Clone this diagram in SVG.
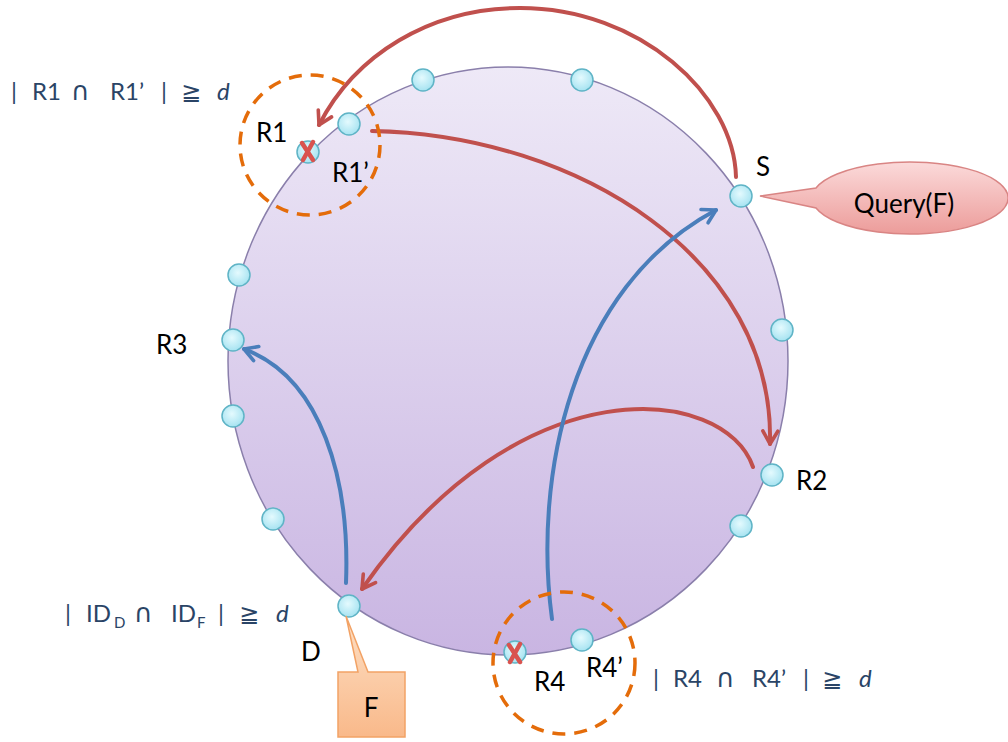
<svg xmlns="http://www.w3.org/2000/svg" width="1008" height="742" viewBox="0 0 1008 742">
<defs>
<linearGradient id="gRing" x1="0" y1="0" x2="0" y2="1">
<stop offset="0" stop-color="#eee9f7"/>
<stop offset="1" stop-color="#c9b5e2"/>
</linearGradient>
<radialGradient id="gNode" cx="0.45" cy="0.4" r="0.6">
<stop offset="0" stop-color="#e4fafe"/>
<stop offset="1" stop-color="#a6e3f1"/>
</radialGradient>
<linearGradient id="gQuery" x1="0" y1="0" x2="0" y2="1">
<stop offset="0" stop-color="#fbdada"/>
<stop offset="1" stop-color="#ec9c9a"/>
</linearGradient>
<linearGradient id="gF" x1="0" y1="0" x2="0" y2="1">
<stop offset="0" stop-color="#fde0c6"/>
<stop offset="1" stop-color="#f9b98a"/>
</linearGradient>
<marker id="mRed" viewBox="0 0 20 20" refX="17" refY="10" markerWidth="20" markerHeight="20" markerUnits="userSpaceOnUse" orient="auto">
<path d="M4,2.5 L17,10 L4,17.5" fill="none" stroke="#c0504d" stroke-width="3.6" stroke-linecap="round" stroke-linejoin="round"/>
</marker>
<marker id="mBlue" viewBox="0 0 20 20" refX="17" refY="10" markerWidth="20" markerHeight="20" markerUnits="userSpaceOnUse" orient="auto">
<path d="M4,2.5 L17,10 L4,17.5" fill="none" stroke="#4a7ebb" stroke-width="3.6" stroke-linecap="round" stroke-linejoin="round"/>
</marker>
</defs>
<style>
.node{fill:url(#gNode);stroke:#5fb4c6;stroke-width:1.5}
.lbl{font-family:Lato,"Liberation Sans",sans-serif;font-size:26px;fill:#000}
.fm{font-family:Lato,"DejaVu Sans","Liberation Sans",sans-serif;font-size:24px;fill:#2a4466}
.op{font-family:"DejaVu Sans",sans-serif;font-size:26px}
.it{font-style:italic}
.red{fill:none;stroke:#c0504d;stroke-width:4;stroke-linecap:round;marker-end:url(#mRed)}
.blue{fill:none;stroke:#4a7ebb;stroke-width:4;stroke-linecap:round;marker-end:url(#mBlue)}
.dash{fill:none;stroke:#e46c0a;stroke-width:3.5;stroke-dasharray:13 9}
.xm{stroke:#d9534f;stroke-width:4.5;stroke-linecap:round}
</style>
<rect width="1008" height="742" fill="#fff"/>
<g id="ring">
<ellipse cx="508" cy="361" rx="280" ry="294" fill="url(#gRing)" stroke="#8a7fab" stroke-width="1.5"/>
</g>
<g id="connectors">
<path class="red" d="M736,177 C734,95 640,8 520,8 C430,8 355,55 319,125"/>
<path class="red" d="M372,131 C580,135 775,260 770,444"/>
<path class="red" d="M753,467 C725,385 520,362 362,589"/>
<path class="blue" d="M346,583 C350,480 322,378 244,349"/>
<path class="blue" d="M552,619 C533,478 570,288 716,210"/>
</g>
<g id="circleR1"><circle cx="310" cy="145" r="70" class="dash"/></g>
<g id="circleR4"><circle cx="564" cy="663" r="71" class="dash"/></g>
<g id="nodes">
<circle id="n1" class="node" cx="423" cy="80" r="11"/>
<circle id="n2" class="node" cx="582" cy="80" r="11"/>
<circle id="nR1p" class="node" cx="349" cy="124" r="11"/>
<circle id="nR1" class="node" cx="308" cy="152" r="11"/>
<circle id="nS" class="node" cx="741" cy="196" r="11"/>
<circle id="n3" class="node" cx="782" cy="330" r="11"/>
<circle id="nR2" class="node" cx="772" cy="475" r="11"/>
<circle id="n4" class="node" cx="741" cy="526" r="11"/>
<circle id="nD" class="node" cx="349" cy="606" r="11"/>
<circle id="nR4" class="node" cx="515" cy="652" r="11"/>
<circle id="nR4p" class="node" cx="582" cy="640" r="11"/>
<circle id="n5" class="node" cx="273" cy="519" r="11"/>
<circle id="n6" class="node" cx="233" cy="416" r="11"/>
<circle id="nR3" class="node" cx="233" cy="340" r="11"/>
<circle id="n7" class="node" cx="239" cy="275" r="11"/>
</g>
<g id="failR1">
<line class="xm" x1="302" y1="143" x2="313" y2="160"/>
<line class="xm" x1="313" y1="142" x2="303" y2="160"/>
</g>
<g id="failR4">
<line class="xm" x1="509" y1="645" x2="520" y2="662"/>
<line class="xm" x1="520" y1="644" x2="510" y2="662"/>
</g>
<g id="query">
<path d="M760,196 L816,188 A98,36 0 1 1 816,208 Z" fill="url(#gQuery)" stroke="#d98584" stroke-width="1.5"/>
<text class="lbl" x="904" y="213" text-anchor="middle" font-size="24">Query(F)</text>
</g>
<g id="fbox">
<path d="M346,616 L368,672 L405,672 L405,737 L338,737 L338,672 L358,672 Z" fill="url(#gF)" stroke="#f2a265" stroke-width="1.5"/>
<text class="lbl" x="371" y="717" text-anchor="middle" font-size="28">F</text>
</g>
<g id="labels">
<text class="lbl" x="256" y="142">R1</text>
<text class="lbl" x="332" y="182">R1’</text>
<text class="lbl" x="756" y="176">S</text>
<text class="lbl" x="796" y="490">R2</text>
<text class="lbl" x="156" y="354">R3</text>
<text class="lbl" x="301" y="661">D</text>
<text class="lbl" x="534" y="691">R4</text>
<text class="lbl" x="586" y="677">R4’</text>
</g>
<g id="formulas">
<text class="fm" y="100"><tspan x="11">|</tspan><tspan x="32">R1</tspan><tspan x="71" class="op">∩</tspan><tspan x="110">R1’</tspan><tspan x="161">|</tspan><tspan x="181">≧</tspan><tspan x="217" class="it">d</tspan></text>
<text class="fm" y="622"><tspan x="65">|</tspan><tspan x="86">ID</tspan><tspan x="114" dy="6" font-size="15">D</tspan><tspan x="134" dy="-6" class="op">∩</tspan><tspan x="171">ID</tspan><tspan x="197" dy="6" font-size="15">F</tspan><tspan x="218" dy="-6">|</tspan><tspan x="239">≧</tspan><tspan x="276" class="it">d</tspan></text>
<text class="fm" y="687"><tspan x="653">|</tspan><tspan x="673">R4</tspan><tspan x="716" class="op">∩</tspan><tspan x="752">R4’</tspan><tspan x="803">|</tspan><tspan x="822">≧</tspan><tspan x="859" class="it">d</tspan></text>
</g>
</svg>
